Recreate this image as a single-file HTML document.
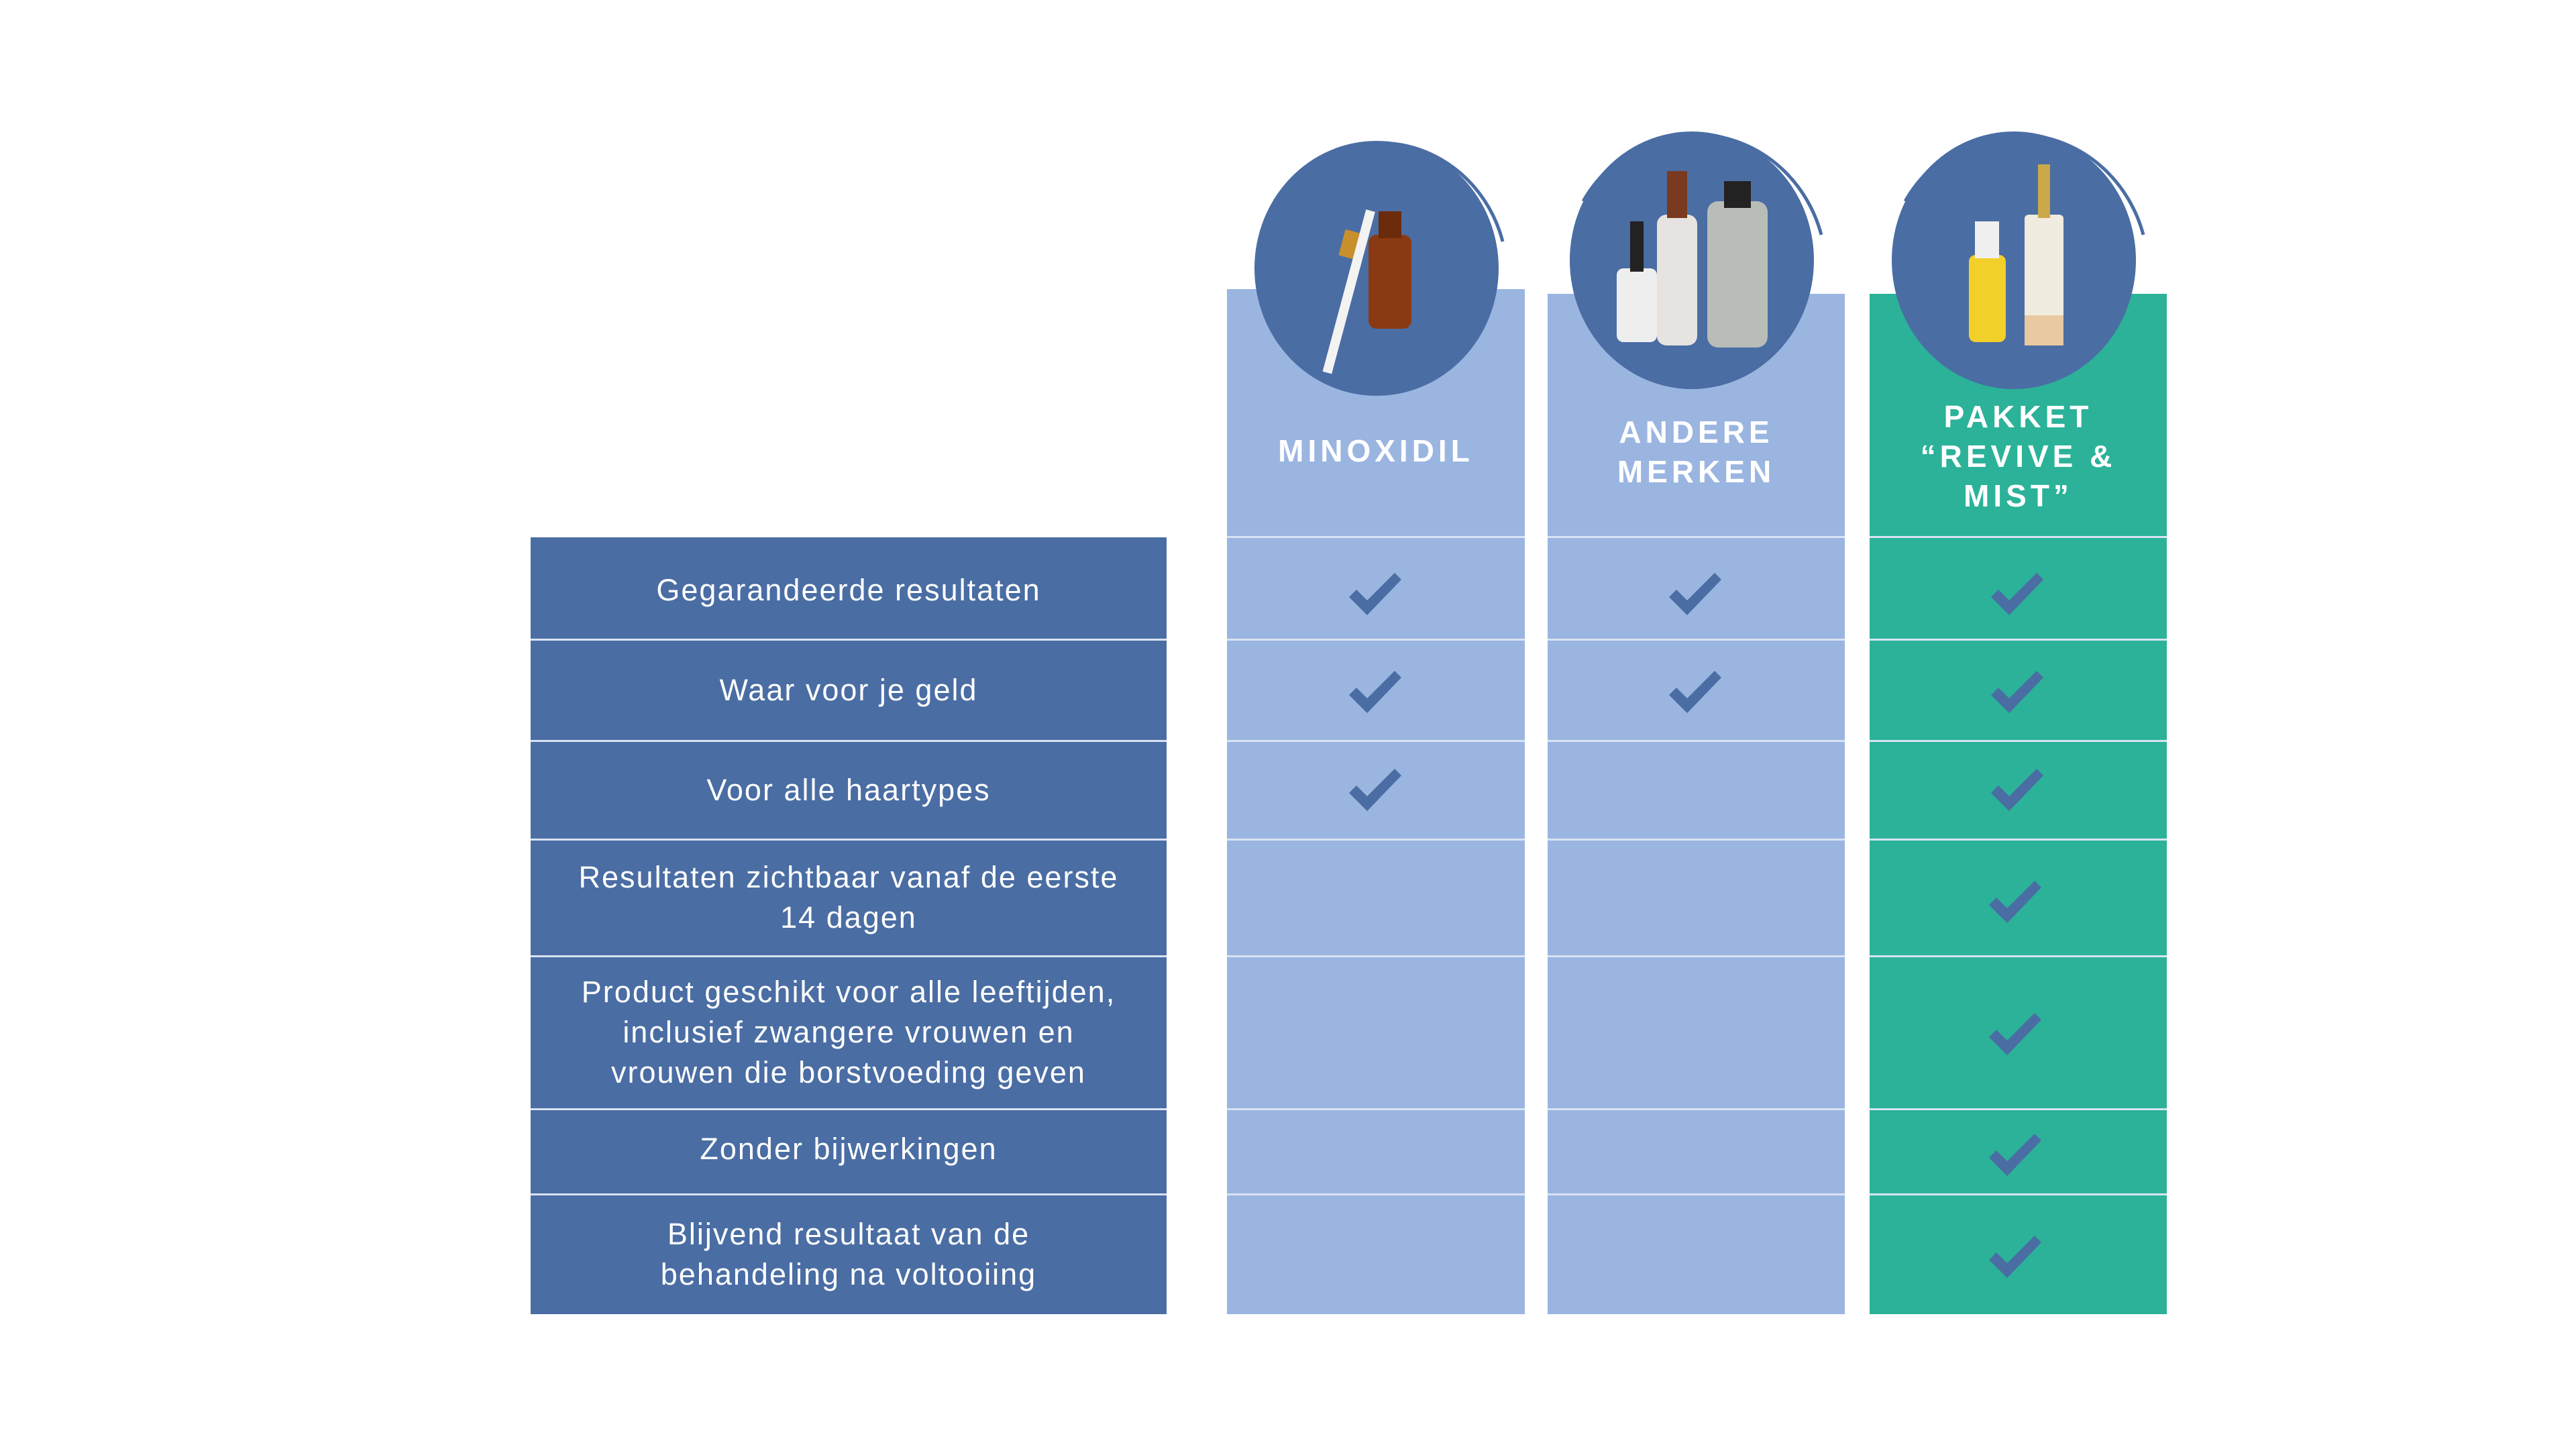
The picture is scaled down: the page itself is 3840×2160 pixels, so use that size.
<!DOCTYPE html>
<html><head><meta charset="utf-8"><style>
html,body{margin:0;padding:0;background:#fff}
body{width:3840px;height:2160px;position:relative;overflow:hidden;font-family:"Liberation Sans",sans-serif}
.a{position:absolute;box-sizing:border-box}
.lc{background:#4a6da3;color:#fff;font-size:45px;letter-spacing:2px;line-height:60px;text-align:center;display:flex;align-items:center;justify-content:center;padding:0 40px}
.c1,.c2{background:#9bb5e1}
.c3{background:#2bb299}
.sep{position:absolute;height:3px;background:#d9e3f2}
.hd{color:#fff;font-weight:bold;font-size:46px;letter-spacing:6px;line-height:59px;text-align:center}
svg.ck{position:absolute;width:80px;height:64px}
</style></head><body>
<div class="a c1" style="left:1829px;top:431px;width:444px;height:1528px"></div>
<div class="a c2" style="left:2307px;top:438px;width:443px;height:1521px"></div>
<div class="a c3" style="left:2787px;top:438px;width:443px;height:1521px"></div>
<div class="a lc" style="left:791px;top:801px;width:948px;height:152px;padding-top:6px">Gegarandeerde resultaten</div>
<div class="a lc" style="left:791px;top:953px;width:948px;height:151px">Waar voor je geld</div>
<div class="a lc" style="left:791px;top:1104px;width:948px;height:147px">Voor alle haartypes</div>
<div class="a lc" style="left:791px;top:1251px;width:948px;height:174px">Resultaten zichtbaar vanaf de eerste 14 dagen</div>
<div class="a lc" style="left:791px;top:1425px;width:948px;height:228px">Product geschikt voor alle leeftijden, inclusief zwangere vrouwen en vrouwen die borstvoeding geven</div>
<div class="a lc" style="left:791px;top:1653px;width:948px;height:127px;padding-bottom:8px">Zonder bijwerkingen</div>
<div class="a lc" style="left:791px;top:1780px;width:948px;height:179px;padding:0 120px">Blijvend resultaat van de behandeling na voltooiing</div>
<svg class="a" style="left:0;top:0" width="3840" height="2160">
 <g fill="#d9e3f2">
  <rect x="1829" y="799" width="444" height="3"/><rect x="2307" y="799" width="443" height="3"/><rect x="2787" y="799" width="443" height="3"/>
 </g>
 <g id="s" fill="#d9e3f2">
  <rect x="791" y="952" width="948" height="3"/><rect x="1829" y="952" width="444" height="3"/><rect x="2307" y="952" width="443" height="3"/><rect x="2787" y="952" width="443" height="3"/>
 </g>
 <use href="#s" y="151"/><use href="#s" y="298"/><use href="#s" y="472"/><use href="#s" y="700"/><use href="#s" y="827"/>
 <g fill="#4a6da3">
  <ellipse cx="2052" cy="400" rx="182" ry="190"/>
  <ellipse cx="2522" cy="388" rx="182" ry="192"/>
  <ellipse cx="3002" cy="388" rx="182" ry="192"/>
 </g>
 <g fill="none" stroke="#4a6da3" stroke-width="5">
  <path d="M1900 300 A190 200 0 0 1 2240 360"/>
  <path d="M2360 300 A195 205 0 0 1 2715 350"/>
  <path d="M2840 300 A195 205 0 0 1 3195 350"/>
 </g>
 <rect x="2040" y="350" width="64" height="140" rx="12" fill="#8a3a12"/>
 <rect x="2055" y="315" width="34" height="40" fill="#6b2b0c"/>
 <rect x="2000" y="345" width="30" height="40" fill="#c8902c" transform="rotate(15 2015 365)"/>
 <rect x="2005" y="310" width="14" height="250" fill="#f3f3f3" transform="rotate(15 2012 430)"/>
 <rect x="2410" y="400" width="60" height="110" rx="10" fill="#eee"/>
 <rect x="2430" y="330" width="20" height="75" fill="#222"/>
 <rect x="2470" y="320" width="60" height="195" rx="14" fill="#e6e3e0"/>
 <rect x="2485" y="255" width="30" height="70" fill="#7a3a20"/>
 <rect x="2545" y="300" width="90" height="218" rx="16" fill="#b9bdb8"/>
 <rect x="2570" y="270" width="40" height="40" fill="#222"/>
 <rect x="2935" y="380" width="55" height="130" rx="10" fill="#f2d02a"/>
 <rect x="2944" y="330" width="36" height="55" fill="#f0f0f0"/>
 <rect x="3018" y="320" width="58" height="195" rx="6" fill="#f1ece0"/>
 <rect x="3038" y="245" width="18" height="80" fill="#c9a94a"/>
 <rect x="3018" y="470" width="58" height="45" fill="#e8c9a2"/>
</svg>
<div class="a hd" style="left:1829px;top:643px;width:444px">MINOXIDIL</div>
<div class="a hd" style="left:2307px;top:615px;width:443px">ANDERE<br>MERKEN</div>
<div class="a hd" style="left:2787px;top:592px;width:443px">PAKKET<br>“REVIVE &amp;<br>MIST”</div>
<svg width="0" height="0" style="position:absolute"><defs><polygon id="ck" points="0,36 11,25 27,41 68,0 78,10 27,63" fill="#4a6da3"/></defs></svg>
<svg class="ck" style="left:2011px;top:854px"><use href="#ck"/></svg>
<svg class="ck" style="left:2011px;top:1000px"><use href="#ck"/></svg>
<svg class="ck" style="left:2011px;top:1146px"><use href="#ck"/></svg>
<svg class="ck" style="left:2488px;top:854px"><use href="#ck"/></svg>
<svg class="ck" style="left:2488px;top:1000px"><use href="#ck"/></svg>
<svg class="ck" style="left:2968px;top:854px"><use href="#ck"/></svg>
<svg class="ck" style="left:2968px;top:1000px"><use href="#ck"/></svg>
<svg class="ck" style="left:2968px;top:1146px"><use href="#ck"/></svg>
<svg class="ck" style="left:2965px;top:1313px"><use href="#ck"/></svg>
<svg class="ck" style="left:2965px;top:1510px"><use href="#ck"/></svg>
<svg class="ck" style="left:2965px;top:1690px"><use href="#ck"/></svg>
<svg class="ck" style="left:2965px;top:1842px"><use href="#ck"/></svg>
</body></html>
